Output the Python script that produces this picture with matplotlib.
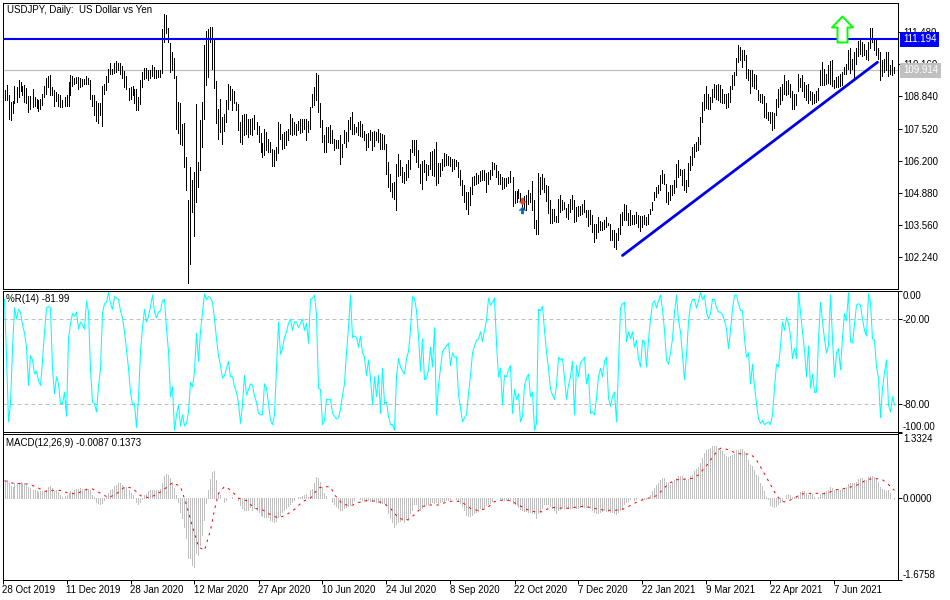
import matplotlib
matplotlib.use("Agg")
import matplotlib.pyplot as plt
import numpy as np
from matplotlib.path import Path

plt.rcParams['font.family'] = ['Liberation Sans', 'DejaVu Sans']
FS = 7.0

# ---------- price bars ----------
highs_a = [109.10,109.31,108.89,108.62,108.66,109.26,109.21,109.51,109.44,109.26,109.31,109.17,108.85,108.85,109.13,108.82,108.75,108.71,108.75,108.96,109.26,109.62,109.68,109.72,109.21,109.10,109.03,108.96,108.92,108.71,108.82,108.89,109.44,109.72,109.68,109.62,109.65,109.65,109.58,109.54,109.54,109.68,109.62,109.51,108.89,108.89,108.66,108.58,108.58,109.26,109.37,109.68,109.99,110.22,109.99,110.20,110.31,110.22,110.22,110.09,109.90,109.68,109.17,109.21,109.26,109.13,109.13,108.82,109.51,109.85,110.03,110.03,109.95,109.95,110.13,110.06,109.95,109.92,109.95,111.60,112.23,112.19,111.68,111.05,110.68,110.44,109.68,108.62,108.55,107.72,107.75,106.35,104.59,105.94,105.39,105.73,108.52,106.14,107.86,108.62,110.95,111.55,111.60,111.71,111.71,111.23,109.47,108.34,108.75,108.00,108.11,108.69,109.37,109.26,109.13,109.07,108.62,108.52,107.79,108.07,108.11,108.11,107.93,107.93,107.97,108.07,107.79,107.61,107.34,106.93,107.48,107.38,107.10,106.97,106.69,106.65,106.76,107.79,107.72,107.28,107.38,107.42,107.52,108.11,107.97,107.79,107.72,107.83,107.93,107.93,107.93,107.93,107.83,108.41,108.96,109.24,109.81,109.72]
lows_a = [108.71,108.69,107.93,107.86,108.14,108.55,108.60,108.82,109.07,108.89,108.62,108.55,108.20,108.34,108.41,108.44,108.38,108.25,108.34,108.48,108.82,108.96,109.21,108.89,108.89,108.44,108.66,108.44,108.41,108.41,108.44,108.44,108.44,108.89,109.26,109.37,109.40,109.13,109.21,109.26,109.37,109.37,109.34,108.75,108.44,108.07,107.83,107.75,108.07,107.61,108.96,109.10,109.44,109.76,109.76,109.79,109.85,109.95,109.76,109.62,109.21,109.13,108.69,108.75,108.89,108.55,108.27,108.27,108.52,109.24,109.54,109.58,109.51,109.62,109.68,109.62,109.62,109.65,109.65,109.81,111.09,111.44,111.09,109.85,109.92,109.58,107.48,107.34,106.90,106.83,105.94,104.97,101.15,101.95,104.08,103.08,104.49,105.11,105.80,106.76,107.93,109.31,109.65,111.09,109.99,109.17,107.75,107.10,107.38,106.90,107.42,107.79,108.34,108.69,108.30,108.55,108.27,107.45,106.97,106.90,107.24,107.31,107.17,107.31,107.24,107.52,107.31,106.97,106.56,106.35,106.42,106.62,106.56,106.56,105.96,105.96,106.21,106.52,107.10,106.69,106.73,106.83,107.04,107.31,107.24,107.31,107.24,107.45,107.34,107.38,107.52,107.04,107.38,107.52,108.41,108.48,108.69,108.20]
highs_b = [108.55,107.86,107.24,107.59,107.59,107.65,107.45,107.10,107.06,107.04,107.24,106.90,107.45,107.38,107.89,108.00,108.20,107.72,107.59,107.79,107.82,107.72,107.42,107.31,107.34,107.45,107.38,107.42,107.38,107.52,107.34,107.28,107.24,106.90,106.14,105.66,105.28,105.32,106.05,106.49,106.21,105.94,105.73,106.05,106.21,106.69,107.06,107.06,107.04,106.65,106.05,106.18,106.21,106.07,106.00,106.55,106.60,106.69,106.97,106.10,106.10,106.28,106.51,106.46,106.38,106.35,106.28,106.28,106.24,106.14,105.83,105.41,105.18,104.90,104.90,105.11,105.52,105.55,105.69,105.59,105.76,105.80,105.80,105.69,105.73,105.80,106.14,106.10,106.00,105.77,105.63,105.52,105.50,105.50,105.52,105.76,105.52,104.95,104.95,105.04,104.86,104.67,104.73,104.77,104.97,104.86,105.36,104.56,103.76,105.69,105.52,105.66,105.50,105.18,105.14,104.59,104.22,104.22,103.90,104.63,104.77,104.56,104.49,104.26,104.42,104.63,104.77,104.56,104.29,104.31,104.31,104.40,104.59,104.18,104.15,104.15,103.94,103.60,103.60,103.87,103.71,103.67,103.76,103.87,103.63,103.60,103.32,103.32,103.21,103.43,103.98,104.08,104.40,104.35,104.04,104.18,103.94,103.94,104.08,103.94]
lows_b = [107.59,106.97,106.55,106.55,106.97,106.92,106.92,106.65,106.73,106.73,106.05,106.35,106.92,106.76,107.01,107.52,107.31,107.28,107.38,107.24,107.20,107.15,107.06,106.62,106.76,107.06,106.62,106.79,107.04,106.97,106.69,106.69,106.69,105.66,105.11,104.95,104.70,104.63,104.15,105.55,105.59,105.32,105.28,105.41,105.52,105.87,106.55,106.42,106.14,105.94,105.28,105.04,105.73,105.41,105.59,105.87,105.59,105.55,105.18,105.28,105.55,105.80,105.96,106.00,106.00,105.96,105.77,105.87,105.96,105.52,105.18,104.77,104.49,104.22,103.98,104.35,104.81,105.18,105.25,105.28,105.36,105.39,105.41,104.90,105.25,105.45,105.59,105.87,105.52,105.25,105.22,105.04,105.08,105.14,105.28,105.32,104.33,104.45,104.49,104.67,104.49,104.15,104.22,104.15,104.42,104.49,104.15,103.43,103.19,103.19,104.81,105.04,104.90,104.53,104.04,103.63,103.63,103.71,103.67,103.67,104.08,104.15,104.22,103.87,103.80,104.08,104.22,103.67,103.71,103.90,103.94,104.01,104.08,103.87,103.49,103.60,103.25,102.84,103.02,103.25,103.32,103.32,103.39,103.46,103.53,102.94,102.91,102.63,102.57,102.91,103.19,103.53,103.74,103.76,103.53,103.53,103.60,103.60,103.63,103.46]
highs_c = [103.90,103.90,103.94,103.87,104.01,104.22,104.49,104.90,105.11,105.18,105.59,105.80,105.66,105.25,104.90,105.18,105.18,105.39,106.07,106.24,105.87,105.80,105.87,105.39,106.10,106.38,106.76,106.90,106.97,107.17,108.00,108.62,108.96,109.26,108.93,108.82,109.13,109.37,109.31,109.35,109.31,109.13,108.96,108.93,108.99,109.26,109.72,109.85,110.44,110.95,110.86,110.75,110.75,110.54,109.99,109.95,109.95,109.76,109.72,109.10,108.96,108.96,108.85,108.58,108.20,108.20,108.20,108.14,108.75,109.13,109.21,109.37,109.72,109.48,109.51,109.37,109.07,108.96,108.96,109.76,109.62,109.72,109.44,109.31,109.35,109.07,109.03,108.96,109.07,109.17,109.92,110.27,109.99,109.76,110.13,110.31,110.34,109.51,109.65,109.68,109.76,109.85,110.06,110.17,110.77,110.82,110.40,110.68,110.82,111.13,111.16,111.09,111.02,110.75,111.09,111.64,111.64,111.19,111.16,110.82,110.68,110.34,110.40,110.68,110.68,110.13,110.34,110.06]
lows_c = [103.30,103.46,103.57,103.53,103.57,104.01,104.15,104.56,104.70,104.86,104.97,105.28,105.22,104.49,104.40,104.56,104.77,104.86,105.11,105.52,105.59,105.18,104.97,104.90,105.14,105.80,106.00,106.35,106.60,106.65,106.90,107.79,108.30,108.38,108.34,108.34,108.62,108.82,108.75,108.71,108.62,108.55,108.55,108.38,108.41,108.62,109.13,109.31,109.72,110.27,110.36,110.06,110.34,109.62,109.51,108.99,109.26,109.17,109.13,108.69,108.62,108.55,108.00,107.97,107.89,107.75,107.45,107.56,108.07,108.41,108.52,108.71,108.93,108.89,108.93,108.80,108.34,108.34,108.48,109.07,109.21,109.07,108.82,108.69,108.58,108.69,108.52,108.55,108.62,108.71,109.31,109.31,109.31,109.35,109.40,109.35,109.26,109.17,109.21,109.21,109.26,109.31,109.76,109.76,109.99,109.79,109.99,109.65,110.17,110.50,110.58,110.50,110.54,110.40,110.36,110.82,111.09,110.75,110.54,110.40,109.51,109.68,109.85,109.95,109.68,109.76,109.72,109.81]

# ---------- Williams %R ----------
pct_r_a = [-6,-46,-93,-80,-41,-12,-20,-13,-15,-24,-30,-40,-67,-46,-49,-59,-57,-64,-67,-50,-29,-12,-11,-12,-55,-73,-61,-66,-80,-80,-72,-89,-34,-23,-16,-18,-15,-27,-22,-24,-27,-7,-15,-55,-79,-80,-86,-68,-55,-16,-9,-8,-1,-9,-13,-4,-5,-6,-14,-19,-29,-42,-55,-72,-81,-80,-97,-76,-43,-26,-13,-22,-18,-11,-3,-15,-19,-15,-14,-7,-6,-27,-43,-75,-68,-99,-88,-81,-96,-88,-96,-94,-86,-65,-68,-57,-30,-50,-29,-15,-2,-6,-4,-5,-8,-20,-34,-46,-53,-62,-60,-55,-50,-61,-61,-68,-72,-80,-94,-81,-60,-74,-70,-66,-67,-75,-79,-87,-88,-88,-66,-69,-80,-92,-95,-88,-55,-22,-45,-41,-33,-29,-23,-20,-28,-22,-22,-26,-23,-20,-28,-23,-37,-6,-5,-3,-17,-69]
pct_r_b = [-70,-95,-92,-77,-77,-77,-87,-89,-91,-90,-84,-74,-66,-44,-26,-3,-33,-32,-33,-40,-32,-44,-47,-60,-49,-62,-81,-61,-75,-60,-87,-55,-80,-79,-89,-95,-95,-99,-61,-48,-54,-57,-59,-48,-43,-28,-4,-5,-14,-32,-57,-34,-63,-62,-56,-40,-54,-26,-88,-67,-55,-43,-41,-39,-37,-53,-44,-47,-47,-74,-83,-93,-90,-88,-73,-60,-44,-39,-35,-34,-29,-36,-28,-21,-5,-10,-8,-5,-37,-61,-55,-81,-60,-61,-56,-53,-87,-70,-77,-73,-93,-89,-67,-62,-59,-75,-72,-99,-94,-13,-14,-11,-28,-43,-55,-70,-74,-77,-67,-47,-49,-48,-62,-77,-67,-61,-50,-88,-53,-61,-51,-49,-47,-66,-59,-87,-86,-88,-76,-61,-55,-61,-50,-47,-76,-82,-75,-72,-93,-53,-12,-9,-8,-36,-29,-34,-29,-40,-35,-48]
pct_r_c = [-54,-35,-36,-54,-35,-20,-9,-7,-12,-7,-3,-13,-28,-49,-52,-44,-34,-15,-3,-21,-29,-46,-63,-46,-22,-10,-6,-6,-12,-7,-1,-6,-3,-15,-20,-16,-6,-6,-12,-15,-15,-17,-21,-27,-41,-28,-13,-3,-3,-9,-14,-14,-34,-47,-44,-66,-52,-68,-80,-91,-94,-92,-95,-94,-93,-95,-88,-69,-52,-54,-39,-22,-28,-19,-23,-32,-48,-41,-48,-1,-15,-29,-42,-61,-39,-69,-59,-72,-72,-35,-8,-22,-34,-44,-39,-3,-34,-61,-44,-41,-56,-33,-16,-21,-1,-36,-37,-24,-10,-9,-10,-20,-28,-32,-2,-8,-34,-35,-54,-62,-90,-69,-58,-49,-81,-86,-75,-81]
pct_r_levels = [-20, -80]

# ---------- MACD histogram ----------
macd_a = [.34,.37,.31,.26,.23,.31,.32,.31,.34,.32,.31,.28,.23,.21,.16,.16,.14,.12,.14,.14,.12,.17,.23,.26,.21,.14,.16,.12,.07,.03,.05,.07,.10,.14,.12,.17,.19,.19,.21,.19,.19,.21,.19,.16,.07,.03,-.07,-.09,-.12,-.09,-.03,.03,.10,.16,.19,.26,.28,.31,.31,.28,.24,.23,.17,.10,.07,0,-.07,-.12,-.07,-.02,.07,.09,.14,.16,.17,.17,.17,.17,.19,.31,.45,.50,.48,.41,.34,.21,.07,-.07,-.28,-.41,-.59,-.83,-1.24,-1.24,-1.38,-1.41,-1.14,-1.17,-.97,-.76,-.45,-.10,.17,.39,.53,.55,.38,.10,.07,0,-.07,-.03,0,.01,.03,0,0,-.03,-.14,-.21,-.24,-.24,-.24,-.19,-.24,-.21,-.24,-.28,-.34,-.37,-.39,-.38,-.39,-.46,-.48,-.50,-.48,-.38,-.34,-.28,-.24,-.21,-.16,-.12,-.07,-.03,0,.03,.03,.05,.07,.09,.03,.16,.19,.32,.43,.41]
macd_b = [.34,.24,.10,.05,0,0,-.07,-.12,-.16,-.21,-.24,-.24,-.21,-.19,-.17,-.14,-.09,-.03,0,0,-.01,-.03,-.05,-.05,-.03,-.05,-.05,-.05,-.07,-.07,-.09,-.09,-.09,-.14,-.30,-.41,-.50,-.59,-.53,-.50,-.48,-.45,-.50,-.43,-.45,-.31,-.24,-.12,-.12,-.21,-.24,-.21,-.17,-.14,-.12,-.09,-.07,-.09,-.08,-.09,-.07,-.05,-.05,-.03,-.03,-.02,0,0,-.02,-.03,-.09,-.17,-.24,-.34,-.37,-.37,-.34,-.31,-.28,-.26,-.21,-.21,-.21,-.14,-.12,-.09,-.05,0,0,0,-.01,-.01,-.03,-.03,-.03,-.05,-.09,-.12,-.14,-.19,-.23,-.24,-.26,-.26,-.28,-.28,-.30,-.31,-.41,-.30,-.28,-.21,-.12,-.12,-.12,-.17,-.21,-.24,-.30,-.24,-.23,-.21,-.21,-.21,-.21,-.21,-.21,-.19,-.21,-.21,-.19,-.19,-.19,-.19,-.19,-.21,-.24,-.28,-.30,-.30,-.28,-.26,-.24,-.26,-.26,-.28,-.28,-.31,-.33,-.28,-.24,-.21,-.12,-.07,-.05,-.02,0,-.03,-.01,0]
macd_c = [0,-.02,-.02,-.02,0,.07,.14,.21,.28,.31,.38,.41,.41,.34,.31,.28,.34,.38,.41,.45,.46,.45,.41,.38,.39,.45,.48,.55,.60,.64,.72,.83,.93,1.0,1.01,1.03,1.07,1.08,1.08,1.03,1.0,.97,.90,.86,.85,.86,.88,.90,.99,1.0,1.01,1.01,.97,.90,.79,.69,.66,.59,.48,.45,.31,.26,.14,.03,-.02,-.14,-.16,-.19,-.16,-.12,-.07,-.03,.01,.07,.09,.07,.03,.03,.03,.07,.12,.15,.15,.10,.07,.10,.09,.03,0,.03,.09,.10,.12,.14,.17,.24,.21,.17,.19,.19,.17,.19,.21,.24,.30,.31,.31,.31,.34,.39,.41,.41,.38,.38,.43,.45,.45,.43,.39,.34,.24,.19,.17,.14,.17,.10,0,-.01]

# ---------- MACD signal, read at every few bars ----------
signal_bar = [0,4,8,12,16,20,24,28,32,36,40,44,48,52,56,60,64,68,72,76,80,84,88,91,94,97,100,103,105,107,110,113,117,121,125,129,133,137,141,145,149,153,157,
              160,163,165,169,173,177,181,185,189,193,197,201,205,209,213,217,221,225,229,233,237,241,245,249,253,257,261,265,269,273,277,281,285,289,293,297,301,305,309,313,317,
              322,326,329,332,336,340,344,347,351,355,358,362,366,370,373,376,379,383,386,389,391,395,399,403,407,411,415,419,423,427,431,435,439,442,445]
signal_val = [.36,.31,.30,.29,.23,.14,.16,.16,.10,.09,.17,.19,.10,.01,.09,.23,.21,.05,.01,.07,.19,.32,.24,-.14,-.59,-1.0,-1.08,-.66,-.24,.10,.24,.17,0,-.05,-.21,-.24,-.34,-.41,-.34,-.23,-.07,0,.21,
              .24,.23,.07,-.12,-.16,-.09,-.05,-.06,-.09,-.21,-.41,-.46,-.34,-.17,-.14,-.14,-.08,-.05,-.09,-.21,-.26,-.21,-.07,-.04,-.05,-.14,-.23,-.28,-.28,-.19,-.20,-.21,-.19,-.17,-.19,-.23,-.25,-.25,-.23,-.15,-.06,
              0,.05,.17,.30,.38,.39,.41,.48,.67,.90,1.03,1.0,.92,.91,.91,.79,.57,.28,.05,-.07,-.08,.01,.09,.10,.10,.09,.17,.19,.23,.28,.38,.41,.38,.28,.16]

# ---------- axes labels and levels ----------
price_ticks = [102.24,103.56,104.88,106.20,107.52,108.84,110.16,111.48]
price_labels = ['102.240','103.560','104.880','106.200','107.520','108.840','110.160','111.480']
support_level = 111.194
last_price = 109.914
trend_bars = [309, 436.5]
trend_prices = [102.29, 110.25]
date_bars = [-1,31,63,95,127,159,191,223,255,287,319,351,383,415]
date_labels = ['28 Oct 2019','11 Dec 2019','28 Jan 2020','12 Mar 2020','27 Apr 2020','10 Jun 2020','24 Jul 2020','8 Sep 2020','22 Oct 2020','7 Dec 2020','22 Jan 2021','9 Mar 2021','22 Apr 2021','7 Jun 2021']

seg_start = [0, 158, 318]
def join(parts):
    xs, ys = [], []
    for s, p in zip(seg_start, parts):
        xs += list(range(s, s + len(p)))
        ys += list(p)
    return np.array(xs), np.array(ys)

W, H = 950, 600
fig = plt.figure(figsize=(W/100, H/100), dpi=100, facecolor='white')
PX = 0.72
def pane(top, bottom):
    ax = fig.add_axes([2.5/W, 1-bottom/H, 895/W, (bottom-top)/H])
    for s in ax.spines.values():
        s.set_linewidth(PX); s.set_color('black'); s.set_antialiased(False)
    ax.set_xlim(-1.0, 446.5)
    ax.yaxis.tick_right()
    ax.tick_params(axis='y', length=3.2, width=PX, pad=0.8, labelsize=FS, colors='black')
    ax.tick_params(axis='x', bottom=False, labelbottom=False)
    return ax

ax1 = pane(2.5, 288.5)
ax2 = pane(290.7, 431.7)
ax3 = pane(433.5, 579.5)

# main pane
ax1.set_ylim(100.93, 112.71)
ax1.set_yticks(price_ticks, price_labels)
bx, hi = join([highs_a, highs_b, highs_c])
_, lo = join([lows_a, lows_b, lows_c])
n = min(len(hi), len(lo))
ax1.vlines(bx[:n], lo[:n], hi[:n], color='black', lw=PX, antialiased=False, zorder=3)
ax1.axhline(last_price, color='#c0c0c0', lw=PX*1.2, zorder=2)
ax1.axhline(support_level, color='#0000ff', lw=1.5, zorder=4)
ax1.plot(trend_bars, trend_prices, color='#0000e6', lw=2.0, zorder=4, solid_capstyle='round')
big_up = Path([(0,13),(10.5,2),(5,2),(5,-13),(-5,-13),(-5,2),(-10.5,2),(0,13)], closed=True)
ax1.plot([419], [111.6], marker=big_up, ms=18.7, mfc='white', mec='#00ff00', mew=1.4, ls='none', zorder=5)
small_up = Path([(0,4),(4,0),(1.5,0),(1.5,-4),(-1.5,-4),(-1.5,0),(-4,0),(0,4)], closed=True)
small_dn = Path([(0,-4),(4,0),(1.5,0),(1.5,4),(-1.5,4),(-1.5,0),(-4,0),(0,-4)], closed=True)
ax1.plot([259], [104.53], marker=small_dn, ms=5, mfc='#e8482a', mec='#e8482a', mew=0.3, ls='none', zorder=5)
ax1.plot([259], [104.15], marker=small_up, ms=5, mfc='#0a63b8', mec='#0a63b8', mew=0.3, ls='none', zorder=5)
ax1.text(4.5/895, 1-7.5/286, 'USDJPY, Daily:  US Dollar vs Yen', transform=ax1.transAxes, fontsize=FS, va='center', ha='left', zorder=6)
tr = ax1.get_yaxis_transform()
bbox = lambda c: dict(boxstyle='square,pad=0.28', fc=c, ec='none')
ax1.text(1+(903-897.5)/895, support_level, f'{support_level:.3f}', transform=tr, color='white', fontsize=FS, va='center', ha='left', bbox=bbox('#0000ff'), zorder=10, clip_on=False)
ax1.text(1+(903-897.5)/895, last_price, f'{last_price:.3f}', transform=tr, color='white', fontsize=FS, va='center', ha='left', bbox=bbox('#c0c0c0'), zorder=10, clip_on=False)

# %R pane
ax2.set_ylim(-100, 0.2)
ax2.set_yticks([-100, -80, -20, 0], ['-100.00', '-80.00', '-20.00', '0.00'])
lbl = ax2.get_yticklabels()
lbl[0].set_va('bottom'); lbl[3].set_va('top')
for v in pct_r_levels:
    ax2.axhline(v, color='#c0c0c0', lw=PX, dashes=(4, 3), zorder=1)
rx, rv = join([pct_r_a, pct_r_b, pct_r_c])
ax2.plot(rx, rv, color='#00ffff', lw=0.75, antialiased=True, zorder=3)
ax2.text(3.5/895, 1-8.5/141, '%R(14) -81.99', transform=ax2.transAxes, fontsize=FS, va='center', ha='left', zorder=6)

# MACD pane
ax3.set_ylim(-1.6758, 1.3324)
ax3.set_yticks([-1.6758, 0, 1.3324], ['-1.6758', '0.0000', '1.3324'])
lbl = ax3.get_yticklabels()
lbl[0].set_va('bottom'); lbl[2].set_va('top')
mx, mv = join([macd_a, macd_b, macd_c])
ax3.vlines(mx, 0, mv, color='#c0c0c0', lw=PX, antialiased=False, zorder=2)
ax3.plot(signal_bar, signal_val, color='#ff0000', lw=0.72, dashes=(2.5, 4.5), antialiased=True, zorder=3)
ax3.text(3.5/895, 1-10/146, 'MACD(12,26,9) -0.0087 0.1373', transform=ax3.transAxes, fontsize=FS, va='center', ha='left', zorder=6)
ax3.tick_params(axis='x', bottom=True, labelbottom=True, length=3.2, width=PX, pad=0.5, labelsize=FS)
ax3.set_xticks(date_bars, date_labels, ha='left')

fig.savefig('out.png', dpi=100)
